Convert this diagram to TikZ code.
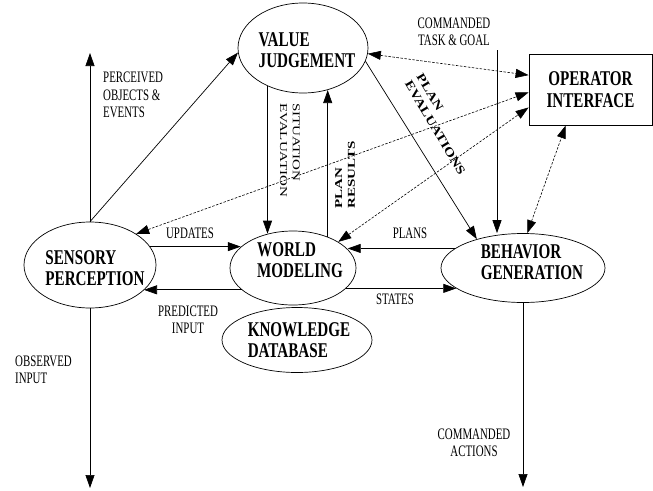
\documentclass[tikz,border=0pt]{standalone}
\usepackage{fontspec}
\usepackage{graphicx}
\setmainfont{Liberation Serif}
\newfontfamily\nodefont[FakeStretch=0.72]{Liberation Serif}
\newfontfamily\labfont[FakeStretch=0.68]{Liberation Serif}
\usetikzlibrary{shapes.geometric,arrows.meta,calc}
\newcommand{\rotfont}{\fontsize{15}{18}\selectfont}
\tikzset{
  ell/.style={draw, ellipse, line width=0.7pt, inner sep=0pt},
  ntext/.style={font=\nodefont\bfseries\fontsize{21}{21}\selectfont, align=left, inner sep=0pt},
  lab/.style={font=\labfont\fontsize{16}{17.5}\selectfont, inner sep=0pt},
  arr/.style={line width=0.7pt, -{Triangle[length=13pt,width=9pt]}},
  darr/.style={line width=0.6pt, dash pattern=on 2.5pt off 1.5pt,
    {Triangle[length=13pt,width=9pt]}-{Triangle[length=13pt,width=9pt]}}
}
\begin{document}
\begin{tikzpicture}[x=1pt,y=-1pt]
\useasboundingbox (0,0) rectangle (653,490);
% nodes
\node[ell, minimum width=130pt, minimum height=90pt,
  label={[ntext, shift={(4,2)}]center:{VALUE\\JUDGEMENT}}] (vj) at (303,48) {};
\node[draw, line width=0.8pt, minimum width=123pt, minimum height=71pt, inner sep=0pt,
  font=\nodefont\bfseries\fontsize{21}{22}\selectfont, align=center] (oi) at (590.5,89.5) {OPERATOR\\INTERFACE};
\node[ell, minimum width=132pt, minimum height=86pt,
  label={[ntext, shift={(5,3)}]center:{SENSORY\\PERCEPTION}}] (sp) at (90,265) {};
\node[ell, minimum width=126pt, minimum height=74pt,
  label={[ntext, shift={(7,-8)}]center:{WORLD\\MODELING}}] (wm) at (293,268) {};
\node[ell, minimum width=164pt, minimum height=69pt,
  label={[ntext, shift={(9,-6)}]center:{BEHAVIOR\\GENERATION}}] (bg) at (523,268) {};
\node[ell, minimum width=150pt, minimum height=65pt,
  label={[ntext, shift={(2,0)}]center:{KNOWLEDGE\\DATABASE}}] (kd) at (297,340) {};
% free ends
\coordinate (percEnd) at (90,53);
\coordinate (ctask) at (497,50);
\coordinate (obsEnd) at (90,488);
\coordinate (actEnd) at (523,487);
\coordinate (oiA) at ($(oi.north west)!0.3!(oi.south west)$);
\coordinate (oiB) at ($(oi.north west)!0.54!(oi.south west)$);
\coordinate (oiC) at ($(oi.north west)!0.75!(oi.south west)$);
\coordinate (oiD) at ($(oi.south west)!0.3!(oi.south east)$);
% solid connectors
\draw[arr] (sp.north) -- (percEnd);
\draw[arr] (sp.north) -- (vj.184);
\draw[arr] (vj.227) -- (vj.227 |- wm.126);
\draw[arr] (wm.42) -- (wm.42 |- vj.300);
\draw[arr] (vj.348) -- (bg.148);
\draw[arr] (ctask) -- (ctask |- bg.north);
\draw[arr] (sp.17) -- (sp.17 -| wm.158);
\draw[arr] (wm.203) -- (wm.203 -| sp.335);
\draw[arr] (bg.164) -- (bg.164 -| wm.19);
\draw[arr] (wm.339) -- (wm.339 -| bg.197);
\draw[arr] (sp.south) -- (obsEnd);
\draw[arr] (bg.south) -- (actEnd);
% dashed connectors
\draw[darr] (vj.355) -- (oiA);
\draw[darr] (sp.34) -- (oiB);
\draw[darr] (wm.30) -- (oiC);
\draw[darr] (bg.83) -- (oiD);
% labels
\node[lab, align=left, anchor=west] (lPerc) at (103,95) {PERCEIVED\\OBJECTS \&\\EVENTS};
\node[lab, align=center] (lTask) at (454,32) {COMMANDED\\TASK \& GOAL};
\node[lab] (lUpd) at (190,233) {UPDATES};
\node[lab, align=center] (lPred) at (188,320) {PREDICTED\\INPUT};
\node[lab] (lPlans) at (410,233) {PLANS};
\node[lab] (lStates) at (395,299) {STATES};
\node[lab, align=left, anchor=west] (lObs) at (15,370) {OBSERVED\\INPUT};
\node[lab, align=center] (lAct) at (474,443) {COMMANDED\\ACTIONS};
\node[rotate=-90, inner sep=0pt] (lSit) at (289,150)
  {\rotfont\scalebox{1}[0.7]{\begin{tabular}{@{}l@{}}SITUATION\\EVALUATION\end{tabular}}};
\node[rotate=90, inner sep=0pt] (lRes) at (346,175)
  {\rotfont\bfseries\scalebox{1}[0.7]{\begin{tabular}{@{}l@{}}PLAN\\RESULTS\end{tabular}}};
\node[rotate=-59.3, inner sep=0pt] (lEval) at (440,125)
  {\fontsize{15}{17}\selectfont\bfseries\scalebox{1}[0.8]{\begin{tabular}{@{}l@{}}PLAN\\EVALUATIONS\end{tabular}}};
\end{tikzpicture}
\end{document}
